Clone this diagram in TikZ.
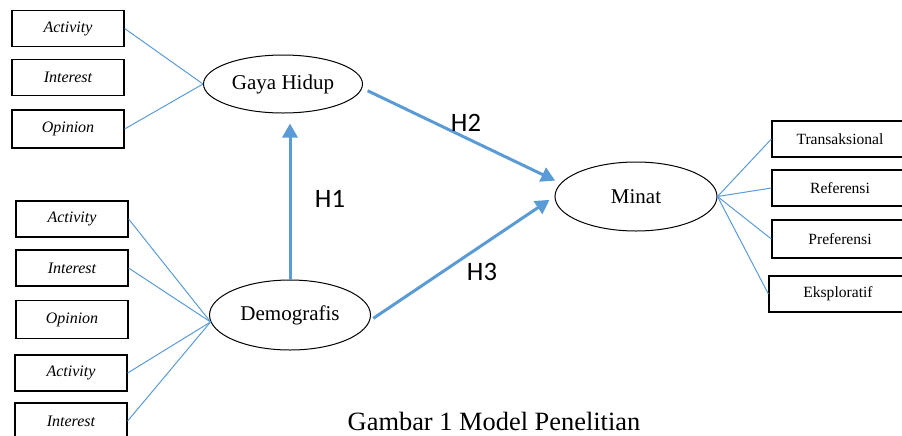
\documentclass[tikz,border=0pt]{standalone}
\usepackage{fontspec}
\setmainfont{Liberation Serif}
\newfontfamily\hfont{Carlito}
\usetikzlibrary{arrows.meta,shapes.geometric}
\definecolor{linkblue}{HTML}{5B9BD5}

\begin{document}
\begin{tikzpicture}[
  x=0.5pt, y=-0.5pt,
  indbox/.style={rectangle, draw, line width=0.6pt, minimum width=56pt, minimum height=18pt, inner sep=0pt, font=\fontsize{8}{9}\selectfont\itshape},
  dimbox/.style={rectangle, draw, line width=0.6pt, minimum width=68pt, minimum height=18pt, inner sep=0pt, font=\fontsize{7.8}{9}\selectfont},
  latent/.style={ellipse, draw, line width=0.5pt, inner sep=0pt, font=\fontsize{10.5}{12}\selectfont},
  link/.style={draw=linkblue, line width=0.5pt},
  hyparrow/.style={draw=linkblue, line width=1.5pt, -{Triangle[length=7pt,width=7.5pt]}},
  hlabel/.style={font=\hfont\fontsize{13.3}{15}\selectfont, inner sep=0pt}
]
\clip (0,0) rectangle (902,435);

% latent variables
\node[latent, minimum width=79.5pt, minimum height=29pt] (gaya) at (283,84) {Gaya Hidup};
\node[latent, minimum width=80.5pt, minimum height=35pt] (demo) at (290,315) {Demografis};
\node[latent, minimum width=81pt, minimum height=34.5pt] (minat) at (636,196.5) {Minat};

% indicators of Gaya Hidup
\node[indbox] (ga) at (68,28.5) {Activity};
\node[indbox] (gi) at (68,77.5) {Interest};
\node[indbox, minimum height=19pt] (go) at (68,129) {Opinion};

% indicators of Demografis
\node[indbox] (da1) at (72,219) {Activity};
\node[indbox] (di1) at (72,268) {Interest};
\node[indbox, minimum height=19pt] (do) at (72,319.5) {Opinion};
\node[indbox] (da2) at (71,373) {Activity};
\node[indbox] (di2) at (71,421) {Interest};

% indicators of Minat
\node[dimbox] (mt) at (840,139) {Transaksional};
\node[dimbox] (mr) at (840,188) {Referensi};
\node[dimbox, minimum height=19pt] (mp) at (840,239) {Preferensi};
\node[dimbox, minimum width=69pt] (me) at (838,294) {Eksploratif};

\draw[link] (ga.east) -- (gaya.west);
\draw[link] (go.east) -- (gaya.west);
\draw[link] (da1.east) -- (demo.185);
\draw[link] (di1.east) -- (demo.185);
\draw[link] (da2.east) -- (demo.185);
\draw[link] (di2.east) -- (demo.185);
\draw[link] (minat.east) -- (mt.west);
\draw[link] (minat.east) -- (mr.west);
\draw[link] (minat.east) -- (mp.west);
\draw[link] (minat.east) -- (me.west);

% hypotheses
\draw[hyparrow, shorten >=5pt] (demo.north) -- (demo.north |- gaya.south);
\draw[hyparrow, shorten <=3pt, shorten >=3pt] (gaya.-3) -- (minat.170);
\draw[hyparrow, shorten <=2pt, shorten >=3pt] (demo.-4) -- (minat.west);

\node[hlabel] (h1) at (330,199) {H1};
\node[hlabel] (h2) at (466,123) {H2};
\node[hlabel] (h3) at (482,272) {H3};

\node[anchor=base, font=\fontsize{13.2}{15}\selectfont, inner sep=0pt] (cap) at (494,430) {Gambar 1 Model Penelitian};
\end{tikzpicture}
\end{document}
